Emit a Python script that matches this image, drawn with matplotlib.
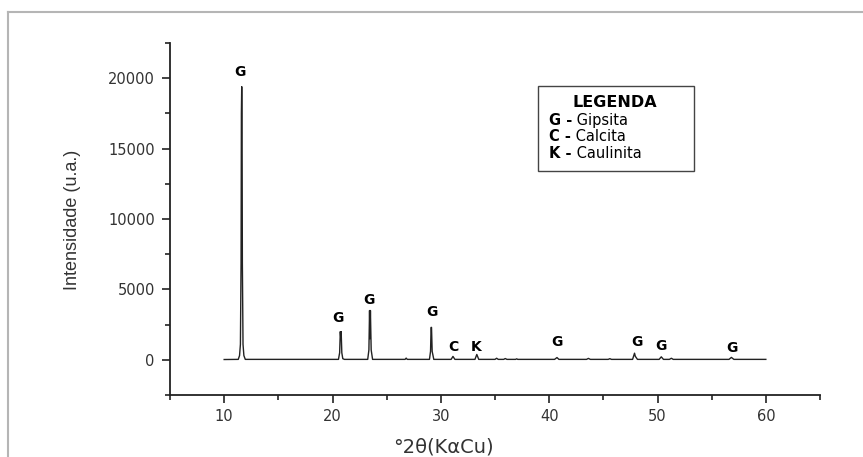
import matplotlib
matplotlib.use("Agg")
import matplotlib.pyplot as plt
from matplotlib.lines import Line2D
from matplotlib.ticker import MultipleLocator

two_theta = [10.0, 11.3, 11.42, 11.5, 11.56, 11.59, 11.62, 11.65, 11.68, 11.74, 11.82, 11.95,
             20.55, 20.66, 20.72, 20.76, 20.8, 20.86, 20.95, 21.1,
             23.25, 23.36, 23.42, 23.46, 23.5, 23.57, 23.7,
             26.7, 26.8, 26.9,
             28.95, 29.05, 29.1, 29.14, 29.2, 29.35,
             30.95, 31.12, 31.3,
             33.15, 33.32, 33.5,
             35.0, 35.15, 35.3, 35.8, 35.95, 36.1, 36.9, 37.0, 37.1,
             40.5, 40.72, 40.9,
             43.45, 43.62, 43.8, 45.45, 45.6, 45.75,
             47.7, 47.88, 47.95, 48.15,
             50.15, 50.35, 50.55, 51.1, 51.28, 51.45,
             56.6, 56.82, 57.05, 60.0]
intensidade = [20, 30, 300, 1100, 6900, 17500, 19400, 17500, 6900, 1100, 300, 30,
               30, 500, 2000, 1600, 2000, 500, 80, 30,
               30, 700, 3500, 1500, 3500, 700, 30,
               30, 120, 30,
               30, 600, 2300, 2300, 600, 30,
               30, 240, 30,
               30, 380, 30,
               30, 110, 30, 30, 90, 30, 30, 70, 30,
               30, 160, 30,
               30, 100, 30, 30, 80, 30,
               30, 470, 250, 30,
               30, 210, 30, 30, 110, 30,
               30, 170, 30, 30]

rotulos = ["G", "G", "G", "G", "C", "K", "G", "G", "G", "G"]
rot_x = [11.5, 20.5, 23.4, 29.2, 31.15, 33.3, 40.7, 48.1, 50.3, 56.85]
rot_y = [20450, 3000, 4280, 3400, 900, 900, 1250, 1250, 970, 850]

legenda_sigla = ["G -", "C -", "K -"]
legenda_nome = ["Gipsita", "Calcita", "Caulinita"]

plt.rcParams['font.family'] = ['DejaVu Sans']

fig = plt.figure(figsize=(8.63, 4.57), dpi=100)
ax = fig.add_axes([170/863, 1 - 395/457, 650/863, 352/457])

ax.plot(two_theta, intensidade, color='#222222', lw=1.0)

for txt, x, y in zip(rotulos, rot_x, rot_y):
    ax.text(x, y, txt, ha='center', va='center', fontsize=10, fontweight='bold', color='black')

ax.set_xlim(5, 65)
ax.set_ylim(-2500, 22500)
ax.xaxis.set_minor_locator(MultipleLocator(5))
ax.yaxis.set_minor_locator(MultipleLocator(2500))
ax.set_xticks([10, 20, 30, 40, 50, 60])
ax.set_yticks([0, 5000, 10000, 15000, 20000])

for s in ['top', 'right']:
    ax.spines[s].set_visible(False)
for s in ['left', 'bottom']:
    ax.spines[s].set_linewidth(1.3)
    ax.spines[s].set_color('#222222')

ax.tick_params(which='major', direction='out', length=6, width=1.2, color='#222222',
               labelsize=10.5, labelcolor='#333333')
ax.tick_params(which='minor', direction='out', length=3.5, width=1.2, color='#222222')
ax.tick_params(axis='y', which='major', pad=5)
ax.tick_params(axis='x', which='major', pad=4)

# rótulos dos eixos
fig.text(72/863, 1 - 220/457, 'Intensidade (u.a.)', rotation=90, ha='center', va='center',
         fontsize=13, family=['Liberation Sans Narrow', 'Liberation Sans'], color='#333333')
fig.text(443.7/863, 1 - 446.7/457, '°2θ(KαCu)', ha='center', va='center',
         fontsize=14, color='#333333')

# caixa da legenda
box = plt.Rectangle((538/863, 1 - 171/457), 156/863, 85/457, transform=fig.transFigure,
                    fill=False, edgecolor='#444444', lw=1.0)
fig.patches.append(box)
fig.text(615/863, 1 - 102.7/457, 'LEGENDA', ha='center', va='center',
         fontsize=11.5, fontweight='bold', color='black')
linhas_y = [120.5, 136.7, 153.0]
for sig, nome, py in zip(legenda_sigla, legenda_nome, linhas_y):
    t = fig.text(549/863, 1 - py/457, sig, ha='left', va='center',
                 fontsize=10.5, fontweight='bold', color='black')
    ax.annotate(' ' + nome, xy=(1, 0.5), xycoords=t, ha='left', va='center',
                fontsize=10.5, color='black')

# moldura externa
fig.add_artist(Line2D([8/863, 1], [1 - 12/457, 1 - 12/457], color='#b5b5b5', lw=1.5))
fig.add_artist(Line2D([8/863, 8/863], [0, 1 - 12/457], color='#b5b5b5', lw=1.5))

fig.savefig('out.png', dpi=100)
